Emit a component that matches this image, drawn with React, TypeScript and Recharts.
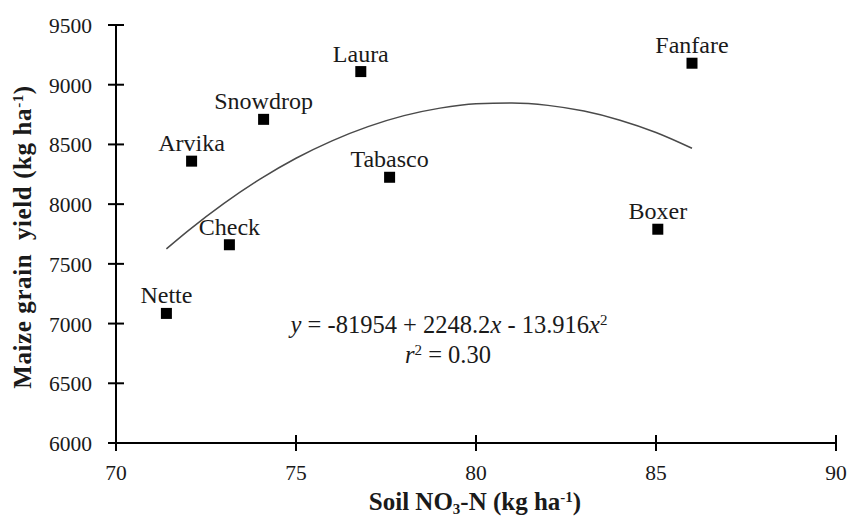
import { ComposedChart, Line, Scatter, XAxis, YAxis } from "recharts";

// cultivars
const varieties = ["Nette", "Check", "Arvika", "Snowdrop", "Laura", "Tabasco", "Boxer", "Fanfare"];
const soilNo3 = [71.4, 73.15, 72.1, 74.1, 76.8, 77.6, 85.05, 86.0];
const grainYield = [7085, 7660, 8360, 8710, 9110, 8225, 7790, 9180];

// fitted curve
const fitNo3 = [71.4, 72, 73, 74, 75, 76, 77, 78, 79, 80, 81, 82, 83, 84, 85, 86];
const fitYield = [7625, 7776, 8006, 8209, 8384, 8530, 8649, 8741, 8804, 8840, 8847, 8827, 8779, 8703, 8600, 8468];

const xTicks = [70, 75, 80, 85, 90];
const yTicks = [6000, 6500, 7000, 7500, 8000, 8500, 9000, 9500];

const points = varieties.map((name, i) => ({ name, x: soilNo3[i], y: grainYield[i] }));
const fit = fitNo3.map((x, i) => ({ x, y: fitYield[i] }));

const FONT = "'Liberation Serif', Tinos, 'Times New Roman', 'DejaVu Serif', serif";
const INK = "#1a1a1a";

// tick text sits at axis - tickSize - tickMargin; draw a tick that crosses the axis
function YTick(props: any) {
  const { x, y, payload } = props;
  return (
    <g>
      <line x1={x + 16} x2={x + 32} y1={y} y2={y} stroke="#000" strokeWidth={2} />
      <text x={x} y={y} dy={8} textAnchor="end" style={{ fontFamily: FONT, fontSize: 21.5 }} fill={INK}>
        {payload.value}
      </text>
    </g>
  );
}

function XTick(props: any) {
  const { x, y, payload } = props;
  return (
    <g>
      <line x1={x} x2={x} y1={y - 28} y2={y - 12} stroke="#000" strokeWidth={2} />
      <text x={x} y={y} dy={17} textAnchor="middle" style={{ fontFamily: FONT, fontSize: 21.5 }} fill={INK}>
        {payload.value}
      </text>
    </g>
  );
}

function Marker(props: any) {
  const { cx, cy, payload } = props;
  return (
    <g>
      <rect x={cx - 5.5} y={cy - 5.5} width={11} height={11} fill="#000" />
      <text x={cx} y={cy - 10} textAnchor="middle" style={{ fontFamily: FONT, fontSize: 24 }} fill={INK}>
        {payload.name}
      </text>
    </g>
  );
}

export default function App() {
  return (
    <div
      style={{
        position: "absolute",
        left: 0,
        top: 0,
        width: 850,
        height: 521,
        background: "#fff",
        fontFamily: FONT,
      }}
    >
      <ComposedChart width={850} height={521} margin={{ top: 25, right: 14, bottom: 0, left: 0 }}>
        <XAxis
          type="number"
          dataKey="x"
          domain={[70, 90]}
          ticks={xTicks}
          interval={0}
          height={78}
          axisLine={{ stroke: "#000", strokeWidth: 2 }}
          tickLine={false}
          tickSize={8}
          tickMargin={12}
          tick={<XTick />}
        />
        <YAxis
          type="number"
          dataKey="y"
          domain={[6000, 9500]}
          ticks={yTicks}
          interval={0}
          width={116}
          axisLine={{ stroke: "#000", strokeWidth: 2 }}
          tickLine={false}
          tickSize={8}
          tickMargin={16}
          tick={<YTick />}
        />
        <Line
          data={fit}
          dataKey="y"
          type="monotone"
          stroke="#4a4a4a"
          strokeWidth={1.5}
          dot={false}
          activeDot={false}
          isAnimationActive={false}
        />
        <Scatter data={points} dataKey="y" shape={<Marker />} isAnimationActive={false} />
      </ComposedChart>
      <svg
        width={850}
        height={521}
        style={{ position: "absolute", left: 0, top: 0, pointerEvents: "none", fontFamily: FONT }}
        fill={INK}
      >
        <text
          transform="rotate(-90)"
          x={-237}
          y={31}
          textAnchor="middle"
          fontWeight="bold"
          fontSize={25}
          letterSpacing={0.6}
          style={{ whiteSpace: "pre" }}
        >
          Maize grain  yield (kg ha<tspan baselineShift="super" fontSize={15}>-1</tspan>)
        </text>
        <text x={475} y={510} textAnchor="middle" fontWeight="bold" fontSize={25}>
          Soil NO<tspan baselineShift={-4} fontSize={15}>3</tspan>-N (kg ha
          <tspan baselineShift="super" fontSize={15}>-1</tspan>)
        </text>
        <text x={449} y={333} textAnchor="middle" fontSize={24.5}>
          <tspan fontStyle="italic">y</tspan> = -81954 + 2248.2<tspan fontStyle="italic">x</tspan> - 13.916
          <tspan fontStyle="italic">x</tspan>
          <tspan baselineShift="super" fontSize={15}>2</tspan>
        </text>
        <text x={448} y={363} textAnchor="middle" fontSize={24.5}>
          <tspan fontStyle="italic">r</tspan>
          <tspan baselineShift="super" fontSize={15}>2</tspan> = 0.30
        </text>
      </svg>
    </div>
  );
}
